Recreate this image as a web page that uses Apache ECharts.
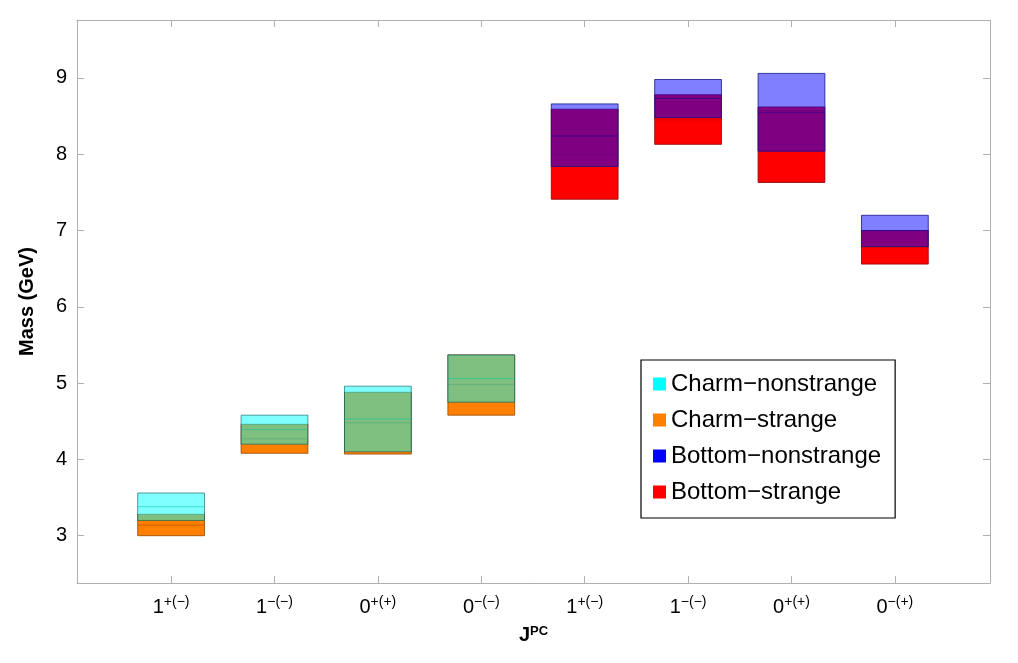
<!DOCTYPE html>
<html><head><meta charset="utf-8">
<script src="https://cdn.jsdelivr.net/npm/echarts@6/dist/echarts.min.js"></script>
<style>html,body{margin:0;padding:0;background:#fff}#c{width:1018px;height:663px}</style>
</head><body><div id="c"></div>
<script>
const categories = [['1','+(−)'],['1','−(−)'],['0','+(+)'],['0','−(−)'],['1','+(−)'],['1','−(−)'],['0','+(+)'],['0','−(+)']];
const positions = [1,2,3,4,5,6,7,8];
// [position, low, high, central]
const charmNonstrange = [[1,3.20,3.56,3.38],[2,4.20,4.58,4.39],[3,4.10,4.96,4.53],[4,4.75,5.37,5.06]];
const charmStrange    = [[1,3.00,3.28,3.14],[2,4.08,4.46,4.27],[3,4.07,4.88,4.48],[4,4.58,5.37,4.98]];
const bottomNonstrange= [[5,7.84,8.66,8.24],[6,8.48,8.98,8.73],[7,8.04,9.06,8.55],[8,6.79,7.20,7.00]];
const bottomStrange   = [[5,7.41,8.59,8.00],[6,8.13,8.78,8.45],[7,7.63,8.62,8.13],[8,6.56,7.00,6.78]];
const halfWidth = 0.323;

function boxSeries(name, data, fill, stroke, lineColor, z){
  return {
    name, type:'custom', data, z,
    itemStyle:{color:fill},
    encode:{x:0,y:[1,2]},
    renderItem(params, api){
      const x = api.value(0), lo = api.value(1), hi = api.value(2), c = api.value(3);
      const p1 = api.coord([x-halfWidth, hi]), p2 = api.coord([x+halfWidth, lo]);
      const pc1 = api.coord([x-halfWidth, c]), pc2 = api.coord([x+halfWidth, c]);
      return {type:'group', children:[
        {type:'rect', shape:{x:p1[0], y:p1[1], width:p2[0]-p1[0], height:p2[1]-p1[1]},
         style:{fill, stroke, lineWidth:1}},
        {type:'line', shape:{x1:pc1[0], y1:pc1[1], x2:pc2[0], y2:pc2[1]},
         style:{stroke:lineColor, lineWidth:1}}
      ]};
    }
  };
}

const chart = echarts.init(document.getElementById('c'));
const frame = '#b0b0b0';
chart.setOption({
  animation:false,
  grid:{left:77, right:28, top:20, bottom:80},
  legend:{
    left:641, top:360, width:312, height:150, orient:'vertical',
    padding:[12,14,14,12], itemGap:12, itemWidth:13, itemHeight:13,
    borderColor:'#000', borderWidth:1.2, backgroundColor:'#fff',
    icon:'rect',
    textStyle:{fontFamily:'Liberation Sans, Arial', fontSize:24, color:'#000'},
    data:[
      {name:'Charm−nonstrange', itemStyle:{color:'#00ffff'}},
      {name:'Charm−strange', itemStyle:{color:'#ff8000'}},
      {name:'Bottom−nonstrange', itemStyle:{color:'#0000ff'}},
      {name:'Bottom−strange', itemStyle:{color:'#ff0000'}}
    ]
  },
  xAxis:[{
    type:'value', min:0.09, max:8.92, position:'bottom',
    name:'{b|J}{s|PC}', nameLocation:'middle', nameGap:42,
    nameTextStyle:{rich:{b:{fontFamily:'Liberation Sans, Arial',fontWeight:'bold',fontSize:20,color:'#000'},
                          s:{fontFamily:'Liberation Sans, Arial',fontWeight:'bold',fontSize:13,color:'#000',verticalAlign:'top',padding:[0,0,8,0]}}},
    axisLine:{lineStyle:{color:frame}}, splitLine:{show:false},
    axisTick:{inside:true, length:7, customValues:positions, lineStyle:{color:frame}},
    axisLabel:{customValues:positions, margin:12,
      formatter:v=>{const c=categories[Math.round(v)-1]; return '{n|'+c[0]+'}{s|'+c[1]+'}';},
      rich:{n:{fontFamily:'Liberation Sans, Arial',fontSize:20,color:'#000'},
            s:{fontFamily:'Liberation Sans, Arial',fontSize:14,color:'#000',verticalAlign:'top',padding:[0,0,10,0]}}}
  },{
    type:'value', min:0.09, max:8.92, position:'top',
    axisLine:{show:true,lineStyle:{color:frame}}, splitLine:{show:false}, axisLabel:{show:false},
    axisTick:{inside:true, length:7, customValues:positions, lineStyle:{color:frame}}
  }],
  yAxis:[{
    type:'value', min:2.38, max:9.76,
    name:'Mass (GeV)', nameLocation:'middle', nameGap:40, nameRotate:90,
    nameTextStyle:{fontFamily:'Liberation Sans, Arial',fontWeight:'bold',fontSize:20,color:'#000'},
    axisLine:{show:true,lineStyle:{color:frame}}, splitLine:{show:false},
    axisTick:{inside:true, length:7, customValues:[3,4,5,6,7,8,9], lineStyle:{color:frame}},
    minorTick:{show:false},
    axisLabel:{customValues:[3,4,5,6,7,8,9], margin:10, fontFamily:'Liberation Sans, Arial', fontSize:20, color:'#000'}
  },{
    type:'value', min:2.38, max:9.76, position:'right',
    axisLine:{show:true,lineStyle:{color:frame}}, splitLine:{show:false}, axisLabel:{show:false},
    axisTick:{inside:true, length:7, customValues:[3,4,5,6,7,8,9], lineStyle:{color:frame}}
  }],
  series:[
    boxSeries('Charm−strange', charmStrange, '#ff8000', 'rgba(150,70,0,0.8)', 'rgba(200,90,0,0.9)', 2),
    boxSeries('Charm−nonstrange', charmNonstrange, 'rgba(0,255,255,0.5)', 'rgba(0,90,90,0.6)', 'rgba(0,200,160,0.5)', 3),
    boxSeries('Bottom−strange', bottomStrange, '#ff0000', 'rgba(140,0,0,0.8)', 'rgba(200,0,0,0.5)', 4),
    boxSeries('Bottom−nonstrange', bottomNonstrange, 'rgba(0,0,255,0.5)', 'rgba(20,20,140,0.8)', 'rgba(40,0,140,0.7)', 5)
  ]
});
</script></body></html>
